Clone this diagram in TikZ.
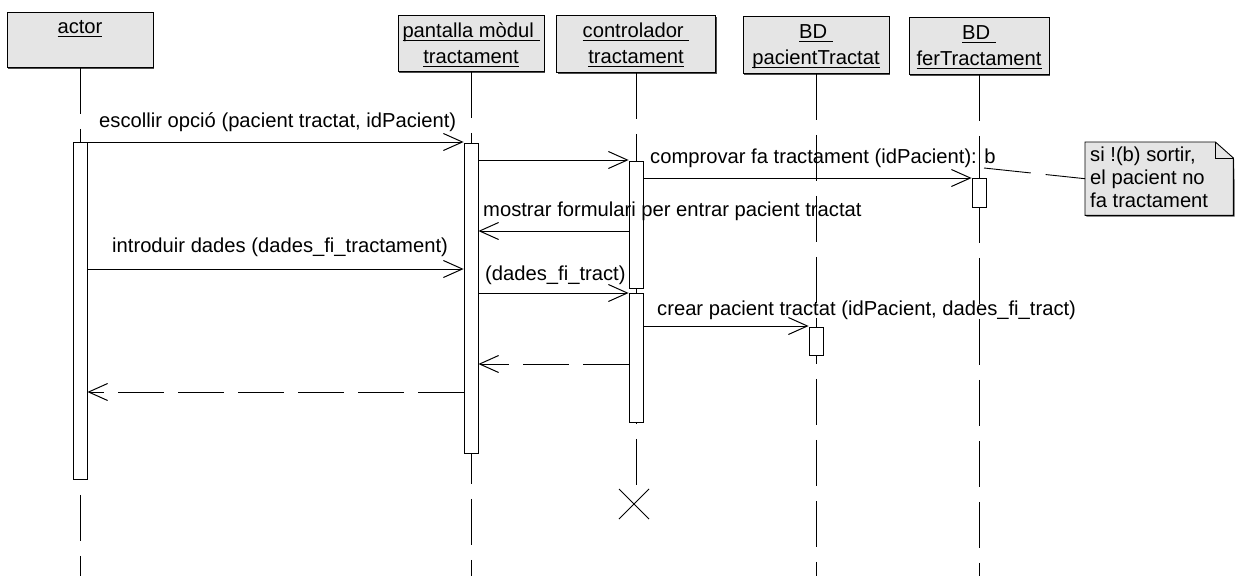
\documentclass[tikz,border=0pt]{standalone}
\usepackage{fontspec}
\setmainfont{Liberation Sans}
\usetikzlibrary{arrows.meta,shadows,calc}
\newcommand\hul[1]{\leavevmode\setbox0\hbox{#1}\rlap{\rule[-4pt]{\wd0}{1pt}}\box0}
\begin{document}
\begin{tikzpicture}[x=1pt,y=-1pt,
  font=\fontsize{20.2}{26}\selectfont,
  hdr/.style={draw, line width=0.9pt, fill=black!10, inner sep=0pt, anchor=north,
    drop shadow={shadow xshift=1.3pt, shadow yshift=-1.3pt, fill=black!70, opacity=1}},
  ttl/.style={anchor=base, inner sep=0pt},
  lbl/.style={anchor=base west, inner sep=0pt},
  life/.style={draw, line width=1pt, dash pattern=on 46pt off 15pt},
  act/.style={draw, line width=0.8pt, fill=white, inner sep=0pt, minimum width=14pt, anchor=north},
  msg/.style={draw, line width=1pt, -{Straight Barb[length=19pt,width=17pt,line width=1pt]}},
  ret/.style={msg, dash pattern=on 46pt off 14pt},
  notelink/.style={draw, line width=0.9pt, dash pattern=on 47pt off 15pt}]
\useasboundingbox (0,0) rectangle (1242,576);
\fill[white] (0,0) rectangle (1242,576);

% header boxes
\node[hdr, minimum width=146pt, minimum height=55pt] (actor) at (80,12) {};
\node[hdr, minimum width=146pt, minimum height=56pt] (pant) at (471,15) {};
\node[hdr, minimum width=159pt, minimum height=57pt] (ctrl) at (636,15) {};
\node[hdr, minimum width=146pt, minimum height=57pt] (bdpt) at (816,16) {};
\node[hdr, minimum width=140pt, minimum height=57pt] (bdft) at (979,17) {};

\node[ttl] (actorT) at ($(actor.north)+(0,21)$) {\hul{actor}};
\node[ttl] (pantT1) at ($(pant.north)+(0,22)$) {\hul{pantalla mòdul\ }};
\node[ttl] (pantT2) at ($(pant.north)+(0,48)$) {\hul{tractament}};
\node[ttl] (ctrlT1) at ($(ctrl.north)+(0,22)$) {\hul{controlador\ }};
\node[ttl] (ctrlT2) at ($(ctrl.north)+(0,48)$) {\hul{tractament}};
\node[ttl] (bdptT1) at ($(bdpt.north)+(0,22)$) {\hul{BD\ }};
\node[ttl] (bdptT2) at ($(bdpt.north)+(0,48)$) {\hul{pacientTractat}};
\node[ttl] (bdftT1) at ($(bdft.north)+(0,22)$) {\hul{BD\ }};
\node[ttl] (bdftT2) at ($(bdft.north)+(0,48)$) {\hul{ferTractament}};

% lifelines
\coordinate (bottom) at (0,576);
\coordinate (ctrlEnd) at (636,489);
\coordinate (xmark) at (634,504);
\draw[life] (actor.south) -- (actor.south |- bottom);
\draw[life] (pant.south) -- (pant.south |- bottom);
\draw[life] (ctrl.south) -- (ctrlEnd);
\draw[life] (bdpt.south) -- (bdpt.south |- bottom);
\draw[life] (bdft.south) -- (bdft.south |- bottom);

% destruction mark
\draw[line width=1pt] ($(xmark)+(-15,-15)$) -- ($(xmark)+(15,15)$);
\draw[line width=1pt] ($(xmark)+(15,-15)$) -- ($(xmark)+(-15,15)$);

% activations
\node[act, minimum height=337pt] (aA) at (actor.south |- 0,142) {};
\node[act, minimum height=310pt] (aP) at (pant.south |- 0,143) {};
\node[act, minimum height=127pt] (aC1) at (ctrl.south |- 0,161) {};
\node[act, minimum height=129pt] (aC2) at (ctrl.south |- 0,293) {};
\node[act, minimum height=29pt] (aF) at (bdft.south |- 0,178) {};
\node[act, minimum height=28pt] (aT) at (bdpt.south |- 0,327) {};

% message levels
\coordinate (y1) at (0,142);
\coordinate (y2) at (0,160);
\coordinate (y3) at (0,178);
\coordinate (y4) at (0,231);
\coordinate (y5) at (0,269);
\coordinate (y6) at (0,293);
\coordinate (y7) at (0,326);
\coordinate (y8) at (0,364);
\coordinate (y9) at (0,392);

\draw[msg] (aA.east |- y1) -- (aP.west |- y1);
\draw[msg] (aP.east |- y2) -- (aC1.west |- y2);
\draw[msg] (aC1.east |- y3) -- (aF.west |- y3);
\draw[msg] (aC1.west |- y4) -- (aP.east |- y4);
\draw[msg] (aA.east |- y5) -- (aP.west |- y5);
\draw[msg] (aP.east |- y6) -- (aC2.west |- y6);
\draw[msg] (aC2.east |- y7) -- (aT.west |- y7);
\draw[ret] (aC2.west |- y8) -- (aP.east |- y8);
\draw[ret] (aP.west |- y9) -- (aA.east |- y9);

% labels
\node[lbl] (l1) at (99,127) {escollir opció (pacient tractat, idPacient)};
\node[lbl] (l3) at (650,163) {comprovar fa tractament (idPacient): b};
\node[lbl] (l4) at (483,216) {mostrar formulari per entrar pacient tractat};
\node[lbl] (l5) at (112,252) {introduir dades (dades\_fi\_tractament)};
\node[lbl] (l6) at (485,280) {(dades\_fi\_tract)};
\node[lbl] (l7) at (657,315) {crear pacient tractat (idPacient, dades\_fi\_tract)};

% note
\node[inner sep=0pt, minimum width=148pt, minimum height=73pt, anchor=north west] (note) at (1085,142) {};
\fill[black!70] ($(note.north east)+(1.3,17.3)$) -- ($(note.south east)+(1.3,1.3)$) -- ($(note.south west)+(1.3,1.3)$) -- ($(note.south west)+(1.3,0)$) -- ($(note.south east)+(0,0)$) -- cycle;
\draw[line width=0.9pt, fill=black!10] (note.north west) -- ($(note.north east)+(-18,0)$) -- ($(note.north east)+(0,16)$) -- (note.south east) -- (note.south west) -- cycle;
\draw[line width=0.9pt] ($(note.north east)+(-18,0)$) -- ($(note.north east)+(-18,16)$) -- ($(note.north east)+(0,16)$);
\node[lbl] (n1) at (1090,161) {si !(b) sortir,};
\node[lbl] (n2) at (1090,184) {el pacient no};
\node[lbl] (n3) at (1090,207) {fa tractament};
\coordinate (bref) at (984,168);
\draw[notelink] (bref) -- (note.west);
\end{tikzpicture}
\end{document}
